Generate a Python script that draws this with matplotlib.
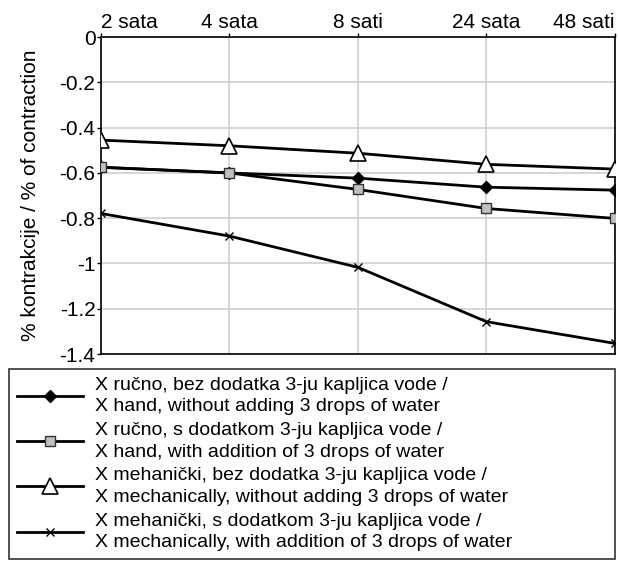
import matplotlib
matplotlib.use("Agg")
import matplotlib.pyplot as plt

# categories (top x axis)
times = ["2 sata", "4 sata", "8 sati", "24 sata", "48 sati"]

# % contraction
hand_no_water = [-0.575, -0.60, -0.623, -0.663, -0.676]
hand_water = [-0.575, -0.60, -0.673, -0.757, -0.801]
mech_no_water = [-0.455, -0.48, -0.513, -0.562, -0.583]
mech_water = [-0.779, -0.879, -1.017, -1.257, -1.353]

labels = [
    "X ručno, bez dodatka 3-ju kapljica vode /\nX hand, without adding 3 drops of water",
    "X ručno, s dodatkom 3-ju kapljica vode /\nX hand, with addition of 3 drops of water",
    "X mehanički, bez dodatka 3-ju kapljica vode /\nX mechanically, without adding 3 drops of water",
    "X mehanički, s dodatkom 3-ju kapljica vode /\nX mechanically, with addition of 3 drops of water",
]

yticks = [0, -0.2, -0.4, -0.6, -0.8, -1, -1.2, -1.4]
ytick_labels = ["0", "-0.2", "-0.4", "-0.6", "-0.8", "-1", "-1.2", "-1.4"]

plt.rcParams['font.family'] = ['Liberation Sans', 'DejaVu Sans']
plt.rcParams['font.size'] = 15

fig = plt.figure(figsize=(6.18, 5.62), dpi=100)
ax = fig.add_axes([0.1634, 0.370, 0.8316, 0.564])

x = range(len(times))
lw = 2.0
ax.plot(x, hand_no_water, color="black", lw=lw, marker="D", ms=6,
        mfc="black", mec="black", label=labels[0], zorder=3)
ax.plot(x, hand_water, color="black", lw=lw, marker="s", ms=7,
        mfc="#c0c0c0", mec="#333333", mew=1, label=labels[1], zorder=4)
ax.plot(x, mech_no_water, color="black", lw=lw, marker="^", ms=11,
        mfc="white", mec="black", mew=1.2, label=labels[2], zorder=3)
ax.plot(x, mech_water, color="black", lw=lw, marker="x", ms=6,
        mec="black", mew=1, label=labels[3], zorder=3)

ax.set_xlim(0, 4)
ax.set_ylim(-1.4, 0)
ax.set_xticks(list(x))
ax.set_xticklabels(times)
ax.xaxis.tick_top()
xt = ax.get_xticklabels()
xt[0].set_horizontalalignment("left")
xt[-1].set_horizontalalignment("right")
ax.set_yticks(yticks)
ax.set_yticklabels(ytick_labels)
ax.tick_params(axis="both", length=3, width=1, color="black", labelsize=15, pad=1)
ax.grid(True, color="#d0d0d0", lw=1.2)
ax.set_axisbelow(True)
for s in ax.spines.values():
    s.set_color("black")
    s.set_linewidth(1.2)

ax.set_ylabel("% kontrakcije / % of contraction", fontsize=15, labelpad=14)

leg = fig.legend(loc="upper left", bbox_to_anchor=(0.015, 0.0, 0.98, 0.3434),
                 mode="expand", frameon=True, fancybox=False, framealpha=1,
                 handlelength=3.4, handletextpad=0.6, labelspacing=0.35,
                 borderaxespad=0, borderpad=0.4, fontsize=14)
for t in leg.get_texts():
    t.set_linespacing(1.35)
leg.get_frame().set_edgecolor("#333333")
leg.get_frame().set_linewidth(1.2)

fig.savefig("out.png", dpi=100)
